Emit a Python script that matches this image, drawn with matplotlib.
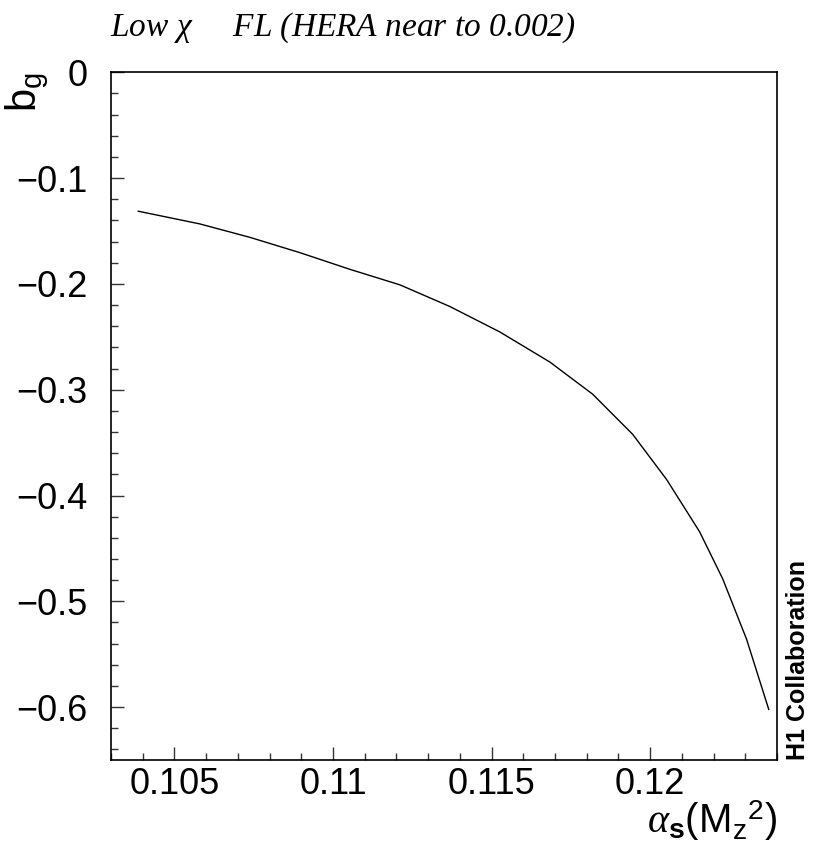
import matplotlib.pyplot as plt
import numpy as np
from matplotlib.ticker import MultipleLocator

# curve (alpha_s(Mz^2), b_g)
alpha_s = [0.10386, 0.10580, 0.10738, 0.10896, 0.11053, 0.11211, 0.11368,
           0.11526, 0.11684, 0.11819, 0.11945, 0.12052, 0.12156, 0.12229,
           0.12304, 0.12374]
b_g = [-0.1313, -0.1433, -0.1560, -0.1705, -0.1862, -0.2009, -0.2213,
       -0.2454, -0.2739, -0.3043, -0.3422, -0.3849, -0.4343, -0.4789,
       -0.5358, -0.6022]

x_ticks = [0.105, 0.11, 0.115, 0.12]
x_tick_labels = ['0.105', '0.11', '0.115', '0.12']
y_ticks = [0, -0.1, -0.2, -0.3, -0.4, -0.5, -0.6]
y_tick_labels = ['0', '\u22120.1', '\u22120.2', '\u22120.3', '\u22120.4', '\u22120.5', '\u22120.6']

plt.rcParams['font.family'] = 'Liberation Sans'
plt.rcParams['mathtext.fontset'] = 'custom'
plt.rcParams['mathtext.rm'] = 'Liberation Sans'
plt.rcParams['mathtext.it'] = 'Liberation Serif:italic'
plt.rcParams['mathtext.bf'] = 'Liberation Sans:bold'

fig = plt.figure(figsize=(8.17, 8.43), dpi=100)
ax = fig.add_axes([111/817, 83/843, 666/817, 687.7/843])

ax.plot(alpha_s, b_g, color='black', lw=1.0)

ax.set_xlim(0.103, 0.124)
ax.set_ylim(-0.65, 0)

ax.set_xticks(x_ticks)
ax.set_xticklabels(x_tick_labels)
ax.set_yticks(y_ticks)
ax.set_yticklabels(y_tick_labels)
ax.xaxis.set_minor_locator(MultipleLocator(0.001))
ax.yaxis.set_minor_locator(MultipleLocator(0.02))

ax.tick_params(which='both', direction='in', top=False, right=False, width=1, color='#333333')
ax.tick_params(which='major', length=9.5)
ax.tick_params(which='minor', length=5)
ax.tick_params(axis='y', which='major', pad=17, labelsize=26)
ax.tick_params(axis='x', which='major', pad=5, labelsize=26)

for s in ax.spines.values():
    s.set_linewidth(1.2)

ax.set_xlabel(r'$\alpha_{\mathbf{s}}(\mathrm{M_z}^{2})$', fontsize=29, loc='right', labelpad=-3)

# y title sits left of the tick labels, aligned with the top of the frame
fig.text(27/817, 1 - 72/843, r'$\mathrm{b_g}$', fontsize=30, rotation=90,
         ha='center', va='top')

fig.text(110/817, 1 - 28/843, r'Low $\chi$     FL (HERA near to 0.002)',
         fontsize=24, family='Liberation Serif', style='italic', va='center', ha='left')

fig.text(798/817, 83/843, 'H1 Collaboration', rotation=90, fontsize=18,
         fontweight='bold', ha='center', va='bottom')

fig.savefig('out.png', dpi=100)
